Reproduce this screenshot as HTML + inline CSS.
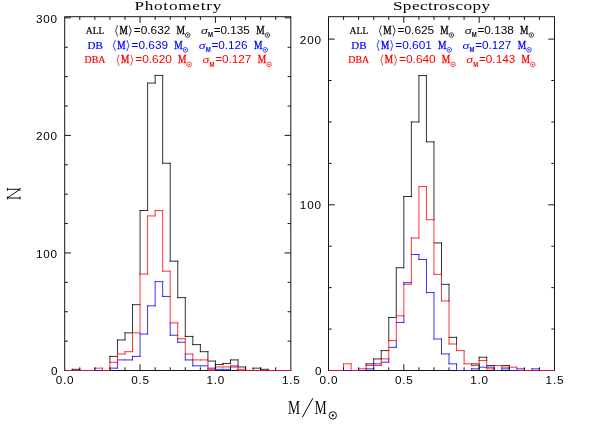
<!DOCTYPE html>
<html><head><meta charset="utf-8"><title>Mass distributions</title>
<style>html,body{margin:0;padding:0;background:#fff}svg{display:block;will-change:transform;opacity:0.999}</style></head>
<body>
<svg width="598" height="433" viewBox="0 0 598 433">
<rect width="598" height="433" fill="#fff"/>
<g fill="none" stroke-width="0.8" stroke-linecap="square">
<path d="M72.24 369.32V370.5M72.24 369.32H79.77M79.77 369.32V370.5M109.92 356.39V362.27M109.92 356.39H117.46M117.46 339.94V354.04M117.46 339.94H124.99M124.99 332.88V339.94M124.99 332.88H132.53M132.53 304.67V332.88M132.53 304.67H140.07M140.07 210.51V274.11M140.07 210.51H147.6M147.6 83.09V210.51M147.6 83.09H155.14M155.14 75.45V83.09M155.14 75.45H162.68M162.68 75.45V163.26M162.68 163.26H170.21M170.21 163.26V261.18M170.21 261.18H177.75M177.75 261.18V297.62M177.75 297.62H185.29M185.29 297.62V336.41M185.29 336.41H192.82M192.82 336.41V344.64M192.82 344.64H200.36M200.36 344.64V351.69M200.36 351.69H207.9M207.9 351.69V359.92M207.9 361.1H215.43M215.43 361.1V364.62M215.43 364.62H222.97M222.97 363.45V364.62M222.97 363.45H230.51M230.51 359.92V363.45M230.51 359.92H238.04M238.04 359.92V365.8M238.04 366.97H245.58M245.58 366.97V369.32M253.12 368.15V370.5M253.12 368.15H260.65M260.65 368.15V369.32M260.65 369.32H268.19M268.19 369.32V370.5" stroke="#000"/>
<path d="M94.85 370.5H102.38M109.92 368.15H117.46M117.46 362.27V368.15M117.46 359.92H124.99M124.99 359.92H132.53M132.53 356.39V359.92M132.53 356.39H140.07M140.07 334.06V356.39M140.07 334.06H147.6M147.6 305.85V334.06M147.6 305.85H155.14M155.14 281.63V305.85M155.14 281.63H162.68M162.68 281.63V296.44M162.68 296.44H170.21M170.21 322.89V335.24M170.21 335.24H177.75M177.75 338.76V342.29M177.75 342.29H185.29M185.29 354.04V359.92M185.29 359.92H192.82M192.82 359.92V365.8M192.82 365.8H200.36M200.36 365.8H207.9M207.9 368.15H215.43M215.43 369.32H222.97M222.97 369.32H230.51M230.51 366.97V369.32M230.51 366.97H238.04M238.04 369.32V370.5M238.04 370.5H245.58" stroke="#00f"/>
<path d="M64.7 370.5H72.24M72.24 370.5H79.77M79.77 370.5H87.31M87.31 370.5H94.85M94.85 368.15V370.5M94.85 368.15H102.38M102.38 368.15V370.5M102.38 370.5H109.92M109.92 362.27V370.5M109.92 362.27H117.46M117.46 354.04V362.27M117.46 354.04H124.99M124.99 351.69V354.04M124.99 351.69H132.53M132.53 332.88V351.69M132.53 332.88H140.07M140.07 274.11V332.88M140.07 274.11H147.6M147.6 215.92V274.11M147.6 215.92H155.14M155.14 210.63V215.92M155.14 210.63H162.68M162.68 210.63V271.17M162.68 271.17H170.21M170.21 271.17V322.89M170.21 322.89H177.75M177.75 322.89V338.76M177.75 338.76H185.29M185.29 338.76V354.04M185.29 354.04H192.82M192.82 354.04V359.92M192.82 359.92H200.36M200.36 359.92H207.9M207.9 359.92V369.32M207.9 369.32H215.43M215.43 366.97V369.32M215.43 366.97H222.97M222.97 366.97H230.51M230.51 365.8V366.97M230.51 365.8H238.04M238.04 365.8V369.32M238.04 369.32H245.58M245.58 369.32V370.5M245.58 370.5H253.12M253.12 370.5H260.65M260.65 370.5H268.19M268.19 370.5H275.73M275.73 370.5H283.26M283.26 370.5H290.8" stroke="#f00"/>
<path d="M366.17 363.87V365.53M366.17 363.87H373.7M373.7 358.9V363.87M373.7 358.9H381.23M381.23 350.62V358.9M381.23 350.62H388.77M388.77 317.48V340.67M388.77 317.48H396.3M396.3 267.77V315.82M396.3 267.77H403.83M403.83 196.51V267.77M403.83 196.51H411.37M411.37 121.95V196.51M411.37 121.95H418.9M418.9 75.55V121.95M418.9 75.55H426.43M426.43 75.55V141.83M426.43 141.83H433.97M433.97 141.83V219.71M433.97 242.91H441.5M441.5 242.91V274.39M441.5 284.34H449.03M449.03 284.34V300.91M449.03 337.36H456.57M456.57 337.36V343.99M471.63 363.87H479.17M479.17 357.24V360.56M479.17 357.24H486.7M486.7 357.24V360.56M486.7 365.53H494.23M501.77 365.53H509.3M509.3 365.53V367.19" stroke="#000"/>
<path d="M343.57 370.5H351.1M358.63 370.5H366.17M366.17 368.84V370.5M366.17 368.84H373.7M373.7 363.87V368.84M373.7 363.87H381.23M381.23 362.21H388.77M388.77 358.9V362.21M388.77 347.3H396.3M396.3 340.67V347.3M396.3 322.45H403.83M403.83 282.68V284.34M403.83 315.82V322.45M403.83 282.68H411.37M411.37 254.51H418.9M418.9 254.51V259.48M418.9 259.48H426.43M426.43 259.48V292.62M426.43 292.62H433.97M433.97 292.62V339.02M433.97 339.02H441.5M441.5 339.02V353.93M441.5 353.93H449.03M449.03 353.93V363.87M449.03 363.87H456.57M456.57 363.87V370.5M456.57 370.5H464.1M464.1 370.5H471.63M471.63 368.84V370.5M471.63 368.84H479.17M479.17 367.19V368.84M479.17 367.19H486.7M486.7 367.19H494.23M494.23 368.84V370.5M494.23 370.5H501.77M501.77 368.84V370.5M501.77 368.84H509.3M509.3 368.84V370.5M509.3 370.5H516.83M516.83 368.84H524.37M524.37 368.84V370.5M531.9 368.84V370.5M531.9 368.84H539.43M539.43 368.84V370.5" stroke="#00f"/>
<path d="M328.5 370.5H336.03M336.03 370.5H343.57M343.57 363.87V370.5M343.57 363.87H351.1M351.1 363.87V370.5M351.1 370.5H358.63M358.63 368.84V370.5M358.63 368.84H366.17M366.17 365.53V368.84M366.17 365.53H373.7M373.7 365.53H381.23M381.23 358.9V365.53M381.23 358.9H388.77M388.77 340.67V358.9M388.77 340.67H396.3M396.3 315.82V340.67M396.3 315.82H403.83M403.83 284.34V315.82M403.83 284.34H411.37M411.37 237.94V284.34M411.37 237.94H418.9M418.9 186.57V237.94M418.9 186.57H426.43M426.43 186.57V219.71M426.43 219.71H433.97M433.97 219.71V274.39M433.97 274.39H441.5M441.5 274.39V300.91M441.5 300.91H449.03M449.03 300.91V343.99M449.03 343.99H456.57M456.57 343.99V350.62M456.57 350.62H464.1M464.1 350.62V363.87M464.1 363.87H471.63M471.63 363.87V365.53M471.63 365.53H479.17M479.17 360.56V365.53M479.17 360.56H486.7M486.7 360.56V368.84M486.7 368.84H494.23M494.23 365.53V368.84M494.23 365.53H501.77M501.77 365.53V367.19M501.77 367.19H509.3M509.3 367.19H516.83M516.83 367.19V370.5M516.83 370.5H524.37M524.37 370.5H531.9M531.9 370.5H539.43M539.43 370.5H546.97M546.97 370.5H554.5" stroke="#f00"/>
</g>
<g fill="none" stroke="#161616" stroke-width="1">
<rect x="64.7" y="16.7" width="226.1" height="353.8"/><path d="M79.77 370.5v-3.2 M79.77 16.7v3.2 M94.85 370.5v-3.2 M94.85 16.7v3.2 M109.92 370.5v-3.2 M109.92 16.7v3.2 M124.99 370.5v-3.2 M124.99 16.7v3.2 M140.07 370.5v-6.2 M140.07 16.7v6.2 M155.14 370.5v-3.2 M155.14 16.7v3.2 M170.21 370.5v-3.2 M170.21 16.7v3.2 M185.29 370.5v-3.2 M185.29 16.7v3.2 M200.36 370.5v-3.2 M200.36 16.7v3.2 M215.43 370.5v-6.2 M215.43 16.7v6.2 M230.51 370.5v-3.2 M230.51 16.7v3.2 M245.58 370.5v-3.2 M245.58 16.7v3.2 M260.65 370.5v-3.2 M260.65 16.7v3.2 M275.73 370.5v-3.2 M275.73 16.7v3.2 M64.7 341.11h3.2 M290.8 341.11h-3.2 M64.7 311.73h3.2 M290.8 311.73h-3.2 M64.7 282.34h3.2 M290.8 282.34h-3.2 M64.7 252.95h6.2 M290.8 252.95h-6.2 M64.7 223.56h3.2 M290.8 223.56h-3.2 M64.7 194.18h3.2 M290.8 194.18h-3.2 M64.7 164.79h3.2 M290.8 164.79h-3.2 M64.7 135.4h6.2 M290.8 135.4h-6.2 M64.7 106.01h3.2 M290.8 106.01h-3.2 M64.7 76.62h3.2 M290.8 76.62h-3.2 M64.7 47.24h3.2 M290.8 47.24h-3.2 M64.7 17.85h6.2 M290.8 17.85h-6.2 "/>
<rect x="328.5" y="16.7" width="226" height="353.8"/><path d="M343.57 370.5v-3.2 M343.57 16.7v3.2 M358.63 370.5v-3.2 M358.63 16.7v3.2 M373.7 370.5v-3.2 M373.7 16.7v3.2 M388.77 370.5v-3.2 M388.77 16.7v3.2 M403.83 370.5v-6.2 M403.83 16.7v6.2 M418.9 370.5v-3.2 M418.9 16.7v3.2 M433.97 370.5v-3.2 M433.97 16.7v3.2 M449.03 370.5v-3.2 M449.03 16.7v3.2 M464.1 370.5v-3.2 M464.1 16.7v3.2 M479.17 370.5v-6.2 M479.17 16.7v6.2 M494.23 370.5v-3.2 M494.23 16.7v3.2 M509.3 370.5v-3.2 M509.3 16.7v3.2 M524.37 370.5v-3.2 M524.37 16.7v3.2 M539.43 370.5v-3.2 M539.43 16.7v3.2 M328.5 329.07h3.2 M554.5 329.07h-3.2 M328.5 287.65h3.2 M554.5 287.65h-3.2 M328.5 246.22h3.2 M554.5 246.22h-3.2 M328.5 204.8h6.2 M554.5 204.8h-6.2 M328.5 163.38h3.2 M554.5 163.38h-3.2 M328.5 121.95h3.2 M554.5 121.95h-3.2 M328.5 80.52h3.2 M554.5 80.52h-3.2 M328.5 39.1h6.2 M554.5 39.1h-6.2 "/>
</g>
<g fill="none" stroke-width="0.9">
<path d="M65.3 370.5H72.24M72.24 370.5H79.77M79.77 370.5H87.31M87.31 370.5H94.85M102.38 370.5H109.92M207.9 370.5H215.43M238.04 370.5H245.58M245.58 370.5H253.12M253.12 370.5H260.65M260.65 370.5H268.19M268.19 370.5H275.73M275.73 370.5H283.26M283.26 370.5H290.8" stroke="#dc143c"/><path d="M95.35 370.5H101.88" stroke="#2020e8"/>
<path d="M329.1 370.5H336.03M336.03 370.5H343.57M351.1 370.5H358.63M516.83 370.5H524.37M524.37 370.5H531.9M531.9 370.5H539.43M539.43 370.5H546.97M546.97 370.5H554.5" stroke="#dc143c"/><path d="M344.07 370.5H350.6M359.13 370.5H365.67M457.07 370.5H463.6M464.6 370.5H471.13M494.73 370.5H501.27M509.8 370.5H516.33" stroke="#2020e8"/>
</g>
<g fill="#000">
<text x="55.8" y="384.4" font-size="11.7" font-family="Liberation Sans, sans-serif" textLength="17.8" lengthAdjust="spacing">0.0</text>
<text x="131.17" y="384.4" font-size="11.7" font-family="Liberation Sans, sans-serif" textLength="17.8" lengthAdjust="spacing">0.5</text>
<text x="206.53" y="384.4" font-size="11.7" font-family="Liberation Sans, sans-serif" textLength="17.8" lengthAdjust="spacing">1.0</text>
<text x="281.9" y="384.4" font-size="11.7" font-family="Liberation Sans, sans-serif" textLength="17.8" lengthAdjust="spacing">1.5</text>
<text x="319.6" y="384.4" font-size="11.7" font-family="Liberation Sans, sans-serif" textLength="17.8" lengthAdjust="spacing">0.0</text>
<text x="394.93" y="384.4" font-size="11.7" font-family="Liberation Sans, sans-serif" textLength="17.8" lengthAdjust="spacing">0.5</text>
<text x="470.27" y="384.4" font-size="11.7" font-family="Liberation Sans, sans-serif" textLength="17.8" lengthAdjust="spacing">1.0</text>
<text x="545.6" y="384.4" font-size="11.7" font-family="Liberation Sans, sans-serif" textLength="17.8" lengthAdjust="spacing">1.5</text>
<text x="51" y="375.1" font-size="11.7" font-family="Liberation Sans, sans-serif" textLength="6.1" lengthAdjust="spacing">0</text>
<text x="35.9" y="257.55" font-size="11.7" font-family="Liberation Sans, sans-serif" textLength="21.2" lengthAdjust="spacing">100</text>
<text x="35.9" y="140" font-size="11.7" font-family="Liberation Sans, sans-serif" textLength="21.2" lengthAdjust="spacing">200</text>
<text x="35.9" y="22.95" font-size="11.7" font-family="Liberation Sans, sans-serif" textLength="21.2" lengthAdjust="spacing">300</text>
<text x="314.9" y="375.1" font-size="11.7" font-family="Liberation Sans, sans-serif" textLength="6.1" lengthAdjust="spacing">0</text>
<text x="299.8" y="209.4" font-size="11.7" font-family="Liberation Sans, sans-serif" textLength="21.2" lengthAdjust="spacing">100</text>
<text x="299.8" y="43.7" font-size="11.7" font-family="Liberation Sans, sans-serif" textLength="21.2" lengthAdjust="spacing">200</text>
</g>
<text transform="translate(134.4,10.2) scale(1.3,1)" font-size="13.2" font-family="Liberation Serif, serif" textLength="66.84" lengthAdjust="spacing" fill="#000">Photometry</text>
<text transform="translate(392.9,10.2) scale(1.3,1)" font-size="13.2" font-family="Liberation Serif, serif" textLength="74.77" lengthAdjust="spacing" fill="#000">Spectroscopy</text>
<text x="85.7" y="33.9" font-size="11.2" font-family="Liberation Serif, serif" textLength="18.8" lengthAdjust="spacingAndGlyphs" fill="#000" stroke="#000" stroke-width="0.2">ALL</text><path d="M117.6 25.3l-2 5.5l2 5.5M129.2 25.3l2 5.5l-2 5.5" fill="none" stroke="#000" stroke-width="0.75"/><text x="119.5" y="33.9" font-size="12.2" font-family="Liberation Serif, serif" textLength="8.3" lengthAdjust="spacingAndGlyphs" fill="#000" stroke="#000" stroke-width="0.35">M</text><text x="133.8" y="33.9" font-size="11" font-family="Liberation Sans, sans-serif" textLength="36.6" lengthAdjust="spacingAndGlyphs" fill="#000">=0.632</text><text x="176.5" y="33.9" font-size="12" font-family="Liberation Serif, serif" textLength="8.4" lengthAdjust="spacingAndGlyphs" fill="#000" stroke="#000" stroke-width="0.3">M</text><circle cx="187.7" cy="35.1" r="2.3" fill="none" stroke="#000" stroke-width="0.7"/><circle cx="187.7" cy="35.1" r="0.8" fill="#000"/><text x="201" y="33.9" font-size="10.6" font-family="Liberation Serif, serif" textLength="6.8" lengthAdjust="spacingAndGlyphs" fill="#000" font-style="italic">σ</text><text x="208" y="37.3" font-size="6.6" font-family="Liberation Sans, sans-serif" textLength="5" lengthAdjust="spacingAndGlyphs" fill="#000" font-weight="bold">M</text><text x="213.7" y="33.9" font-size="11" font-family="Liberation Sans, sans-serif" textLength="36.2" lengthAdjust="spacingAndGlyphs" fill="#000">=0.135</text><text x="256.2" y="33.9" font-size="12" font-family="Liberation Serif, serif" textLength="8.4" lengthAdjust="spacingAndGlyphs" fill="#000" stroke="#000" stroke-width="0.3">M</text><circle cx="267.5" cy="35.1" r="2.3" fill="none" stroke="#000" stroke-width="0.7"/><circle cx="267.5" cy="35.1" r="0.8" fill="#000"/>
<text x="87.5" y="48.6" font-size="11.2" font-family="Liberation Serif, serif" textLength="15.2" lengthAdjust="spacingAndGlyphs" fill="#00f" stroke="#00f" stroke-width="0.2">DB</text><path d="M115.3 40l-2 5.5l2 5.5M126.9 40l2 5.5l-2 5.5" fill="none" stroke="#00f" stroke-width="0.75"/><text x="117.2" y="48.6" font-size="12.2" font-family="Liberation Serif, serif" textLength="8.3" lengthAdjust="spacingAndGlyphs" fill="#00f" stroke="#00f" stroke-width="0.35">M</text><text x="131.5" y="48.6" font-size="11" font-family="Liberation Sans, sans-serif" textLength="36.6" lengthAdjust="spacingAndGlyphs" fill="#00f">=0.639</text><text x="174.2" y="48.6" font-size="12" font-family="Liberation Serif, serif" textLength="8.4" lengthAdjust="spacingAndGlyphs" fill="#00f" stroke="#00f" stroke-width="0.3">M</text><circle cx="185.4" cy="49.8" r="2.3" fill="none" stroke="#00f" stroke-width="0.7"/><circle cx="185.4" cy="49.8" r="0.8" fill="#00f"/><text x="198.7" y="48.6" font-size="10.6" font-family="Liberation Serif, serif" textLength="6.8" lengthAdjust="spacingAndGlyphs" fill="#00f" font-style="italic">σ</text><text x="205.7" y="52" font-size="6.6" font-family="Liberation Sans, sans-serif" textLength="5" lengthAdjust="spacingAndGlyphs" fill="#00f" font-weight="bold">M</text><text x="211.4" y="48.6" font-size="11" font-family="Liberation Sans, sans-serif" textLength="36.2" lengthAdjust="spacingAndGlyphs" fill="#00f">=0.126</text><text x="253.9" y="48.6" font-size="12" font-family="Liberation Serif, serif" textLength="8.4" lengthAdjust="spacingAndGlyphs" fill="#00f" stroke="#00f" stroke-width="0.3">M</text><circle cx="265.2" cy="49.8" r="2.3" fill="none" stroke="#00f" stroke-width="0.7"/><circle cx="265.2" cy="49.8" r="0.8" fill="#00f"/>
<text x="84.5" y="63.3" font-size="11.2" font-family="Liberation Serif, serif" textLength="20.9" lengthAdjust="spacingAndGlyphs" fill="#f00" stroke="#f00" stroke-width="0.2">DBA</text><path d="M119.1 54.7l-2 5.5l2 5.5M130.7 54.7l2 5.5l-2 5.5" fill="none" stroke="#f00" stroke-width="0.75"/><text x="121" y="63.3" font-size="12.2" font-family="Liberation Serif, serif" textLength="8.3" lengthAdjust="spacingAndGlyphs" fill="#f00" stroke="#f00" stroke-width="0.35">M</text><text x="135.3" y="63.3" font-size="11" font-family="Liberation Sans, sans-serif" textLength="36.6" lengthAdjust="spacingAndGlyphs" fill="#f00">=0.620</text><text x="178" y="63.3" font-size="12" font-family="Liberation Serif, serif" textLength="8.4" lengthAdjust="spacingAndGlyphs" fill="#f00" stroke="#f00" stroke-width="0.3">M</text><circle cx="189.2" cy="64.5" r="2.3" fill="none" stroke="#f00" stroke-width="0.7"/><circle cx="189.2" cy="64.5" r="0.8" fill="#f00"/><text x="202.5" y="63.3" font-size="10.6" font-family="Liberation Serif, serif" textLength="6.8" lengthAdjust="spacingAndGlyphs" fill="#f00" font-style="italic">σ</text><text x="209.5" y="66.7" font-size="6.6" font-family="Liberation Sans, sans-serif" textLength="5" lengthAdjust="spacingAndGlyphs" fill="#f00" font-weight="bold">M</text><text x="215.2" y="63.3" font-size="11" font-family="Liberation Sans, sans-serif" textLength="36.2" lengthAdjust="spacingAndGlyphs" fill="#f00">=0.127</text><text x="257.7" y="63.3" font-size="12" font-family="Liberation Serif, serif" textLength="8.4" lengthAdjust="spacingAndGlyphs" fill="#f00" stroke="#f00" stroke-width="0.3">M</text><circle cx="269" cy="64.5" r="2.3" fill="none" stroke="#f00" stroke-width="0.7"/><circle cx="269" cy="64.5" r="0.8" fill="#f00"/>
<text x="349.5" y="33.9" font-size="11.2" font-family="Liberation Serif, serif" textLength="18.8" lengthAdjust="spacingAndGlyphs" fill="#000" stroke="#000" stroke-width="0.2">ALL</text><path d="M381.4 25.3l-2 5.5l2 5.5M393 25.3l2 5.5l-2 5.5" fill="none" stroke="#000" stroke-width="0.75"/><text x="383.3" y="33.9" font-size="12.2" font-family="Liberation Serif, serif" textLength="8.3" lengthAdjust="spacingAndGlyphs" fill="#000" stroke="#000" stroke-width="0.35">M</text><text x="397.6" y="33.9" font-size="11" font-family="Liberation Sans, sans-serif" textLength="36.6" lengthAdjust="spacingAndGlyphs" fill="#000">=0.625</text><text x="440.3" y="33.9" font-size="12" font-family="Liberation Serif, serif" textLength="8.4" lengthAdjust="spacingAndGlyphs" fill="#000" stroke="#000" stroke-width="0.3">M</text><circle cx="451.5" cy="35.1" r="2.3" fill="none" stroke="#000" stroke-width="0.7"/><circle cx="451.5" cy="35.1" r="0.8" fill="#000"/><text x="464.8" y="33.9" font-size="10.6" font-family="Liberation Serif, serif" textLength="6.8" lengthAdjust="spacingAndGlyphs" fill="#000" font-style="italic">σ</text><text x="471.8" y="37.3" font-size="6.6" font-family="Liberation Sans, sans-serif" textLength="5" lengthAdjust="spacingAndGlyphs" fill="#000" font-weight="bold">M</text><text x="477.5" y="33.9" font-size="11" font-family="Liberation Sans, sans-serif" textLength="36.2" lengthAdjust="spacingAndGlyphs" fill="#000">=0.138</text><text x="520" y="33.9" font-size="12" font-family="Liberation Serif, serif" textLength="8.4" lengthAdjust="spacingAndGlyphs" fill="#000" stroke="#000" stroke-width="0.3">M</text><circle cx="531.3" cy="35.1" r="2.3" fill="none" stroke="#000" stroke-width="0.7"/><circle cx="531.3" cy="35.1" r="0.8" fill="#000"/>
<text x="351.3" y="48.6" font-size="11.2" font-family="Liberation Serif, serif" textLength="15.2" lengthAdjust="spacingAndGlyphs" fill="#00f" stroke="#00f" stroke-width="0.2">DB</text><path d="M379.1 40l-2 5.5l2 5.5M390.7 40l2 5.5l-2 5.5" fill="none" stroke="#00f" stroke-width="0.75"/><text x="381" y="48.6" font-size="12.2" font-family="Liberation Serif, serif" textLength="8.3" lengthAdjust="spacingAndGlyphs" fill="#00f" stroke="#00f" stroke-width="0.35">M</text><text x="395.3" y="48.6" font-size="11" font-family="Liberation Sans, sans-serif" textLength="36.6" lengthAdjust="spacingAndGlyphs" fill="#00f">=0.601</text><text x="438" y="48.6" font-size="12" font-family="Liberation Serif, serif" textLength="8.4" lengthAdjust="spacingAndGlyphs" fill="#00f" stroke="#00f" stroke-width="0.3">M</text><circle cx="449.2" cy="49.8" r="2.3" fill="none" stroke="#00f" stroke-width="0.7"/><circle cx="449.2" cy="49.8" r="0.8" fill="#00f"/><text x="462.5" y="48.6" font-size="10.6" font-family="Liberation Serif, serif" textLength="6.8" lengthAdjust="spacingAndGlyphs" fill="#00f" font-style="italic">σ</text><text x="469.5" y="52" font-size="6.6" font-family="Liberation Sans, sans-serif" textLength="5" lengthAdjust="spacingAndGlyphs" fill="#00f" font-weight="bold">M</text><text x="475.2" y="48.6" font-size="11" font-family="Liberation Sans, sans-serif" textLength="36.2" lengthAdjust="spacingAndGlyphs" fill="#00f">=0.127</text><text x="517.7" y="48.6" font-size="12" font-family="Liberation Serif, serif" textLength="8.4" lengthAdjust="spacingAndGlyphs" fill="#00f" stroke="#00f" stroke-width="0.3">M</text><circle cx="529" cy="49.8" r="2.3" fill="none" stroke="#00f" stroke-width="0.7"/><circle cx="529" cy="49.8" r="0.8" fill="#00f"/>
<text x="348.3" y="63.3" font-size="11.2" font-family="Liberation Serif, serif" textLength="20.9" lengthAdjust="spacingAndGlyphs" fill="#f00" stroke="#f00" stroke-width="0.2">DBA</text><path d="M382.9 54.7l-2 5.5l2 5.5M394.5 54.7l2 5.5l-2 5.5" fill="none" stroke="#f00" stroke-width="0.75"/><text x="384.8" y="63.3" font-size="12.2" font-family="Liberation Serif, serif" textLength="8.3" lengthAdjust="spacingAndGlyphs" fill="#f00" stroke="#f00" stroke-width="0.35">M</text><text x="399.1" y="63.3" font-size="11" font-family="Liberation Sans, sans-serif" textLength="36.6" lengthAdjust="spacingAndGlyphs" fill="#f00">=0.640</text><text x="441.8" y="63.3" font-size="12" font-family="Liberation Serif, serif" textLength="8.4" lengthAdjust="spacingAndGlyphs" fill="#f00" stroke="#f00" stroke-width="0.3">M</text><circle cx="453" cy="64.5" r="2.3" fill="none" stroke="#f00" stroke-width="0.7"/><circle cx="453" cy="64.5" r="0.8" fill="#f00"/><text x="466.3" y="63.3" font-size="10.6" font-family="Liberation Serif, serif" textLength="6.8" lengthAdjust="spacingAndGlyphs" fill="#f00" font-style="italic">σ</text><text x="473.3" y="66.7" font-size="6.6" font-family="Liberation Sans, sans-serif" textLength="5" lengthAdjust="spacingAndGlyphs" fill="#f00" font-weight="bold">M</text><text x="479" y="63.3" font-size="11" font-family="Liberation Sans, sans-serif" textLength="36.2" lengthAdjust="spacingAndGlyphs" fill="#f00">=0.143</text><text x="521.5" y="63.3" font-size="12" font-family="Liberation Serif, serif" textLength="8.4" lengthAdjust="spacingAndGlyphs" fill="#f00" stroke="#f00" stroke-width="0.3">M</text><circle cx="532.8" cy="64.5" r="2.3" fill="none" stroke="#f00" stroke-width="0.7"/><circle cx="532.8" cy="64.5" r="0.8" fill="#f00"/>
<g fill="#000">
<path d="M7.3 189.3H20 M7.3 198H20.2 M19.6 189.6L7.6 197.7 M7.4 187.9v2.8 M19.9 187.9v2.8 M7.4 196.6v2.8 M20 196.6v2.8" fill="none" stroke="#000" stroke-width="0.95"/>
<text x="288" y="414.1" font-size="19.5" font-family="Liberation Serif, serif" textLength="12.1" lengthAdjust="spacingAndGlyphs">M</text>
<path d="M302.4 417.2L312.9 398.2" stroke="#000" stroke-width="1" fill="none"/>
<text x="314.8" y="414.1" font-size="19.5" font-family="Liberation Serif, serif" textLength="11.9" lengthAdjust="spacingAndGlyphs">M</text>
<circle cx="332.8" cy="415.4" r="3.7" fill="none" stroke="#000" stroke-width="0.9"/><circle cx="332.8" cy="415.4" r="1.1" fill="#000"/>
</g>
</svg>
</body></html>
